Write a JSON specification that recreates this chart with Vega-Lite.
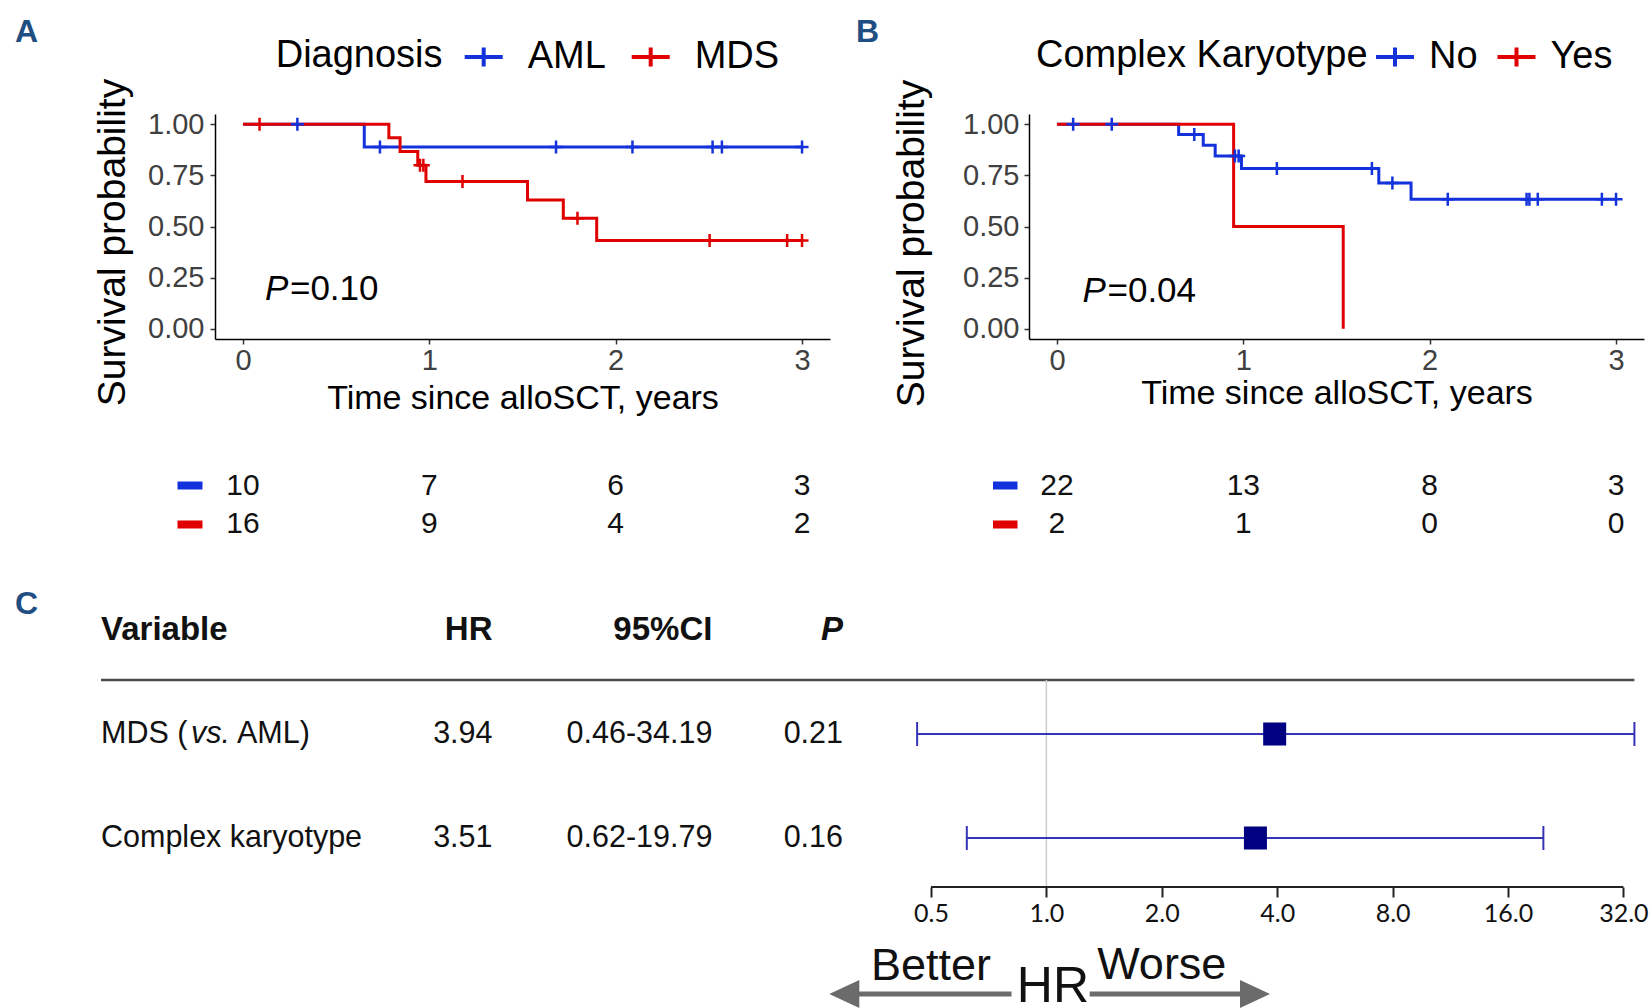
{
  "$schema": "https://vega.github.io/schema/vega-lite/v6.json",
  "background": "white",
  "padding": {"left": 15, "top": 16, "right": 5, "bottom": 2},
  "autosize": {"type": "pad"},
  "config": {"view": {"stroke": null}, "axis": {"grid": false}, "text": {"font": "Liberation Sans"}, "title": {"font": "Liberation Sans"}},
  "datasets": {
    "kmA_lines": [
      {"group": "AML", "time": 0, "surv": 1},
      {"group": "AML", "time": 0.651, "surv": 0.8889},
      {"group": "AML", "time": 3.0, "surv": 0.8889},
      {"group": "MDS", "time": 0, "surv": 1},
      {"group": "MDS", "time": 0.783, "surv": 0.9333},
      {"group": "MDS", "time": 0.843, "surv": 0.8667},
      {"group": "MDS", "time": 0.938, "surv": 0.8},
      {"group": "MDS", "time": 0.982, "surv": 0.72},
      {"group": "MDS", "time": 1.527, "surv": 0.63},
      {"group": "MDS", "time": 1.719, "surv": 0.54},
      {"group": "MDS", "time": 1.898, "surv": 0.432},
      {"group": "MDS", "time": 3.0, "surv": 0.432}
    ],
    "kmA_cens": [
      {"group": "AML", "time": 0.292, "surv": 1},
      {"group": "AML", "time": 0.735, "surv": 0.8889},
      {"group": "AML", "time": 1.68, "surv": 0.8889},
      {"group": "AML", "time": 2.09, "surv": 0.8889},
      {"group": "AML", "time": 2.52, "surv": 0.8889},
      {"group": "AML", "time": 2.57, "surv": 0.8889},
      {"group": "AML", "time": 3.0, "surv": 0.8889},
      {"group": "MDS", "time": 0.089, "surv": 1},
      {"group": "MDS", "time": 0.95, "surv": 0.8},
      {"group": "MDS", "time": 0.968, "surv": 0.8},
      {"group": "MDS", "time": 1.178, "surv": 0.72},
      {"group": "MDS", "time": 1.795, "surv": 0.54},
      {"group": "MDS", "time": 2.504, "surv": 0.432},
      {"group": "MDS", "time": 2.92, "surv": 0.432},
      {"group": "MDS", "time": 3.0, "surv": 0.432}
    ],
    "kmB_lines": [
      {"group": "No", "time": 0, "surv": 1},
      {"group": "No", "time": 0.653, "surv": 0.95},
      {"group": "No", "time": 0.785, "surv": 0.8972},
      {"group": "No", "time": 0.849, "surv": 0.8444},
      {"group": "No", "time": 0.99, "surv": 0.7841},
      {"group": "No", "time": 1.727, "surv": 0.7128},
      {"group": "No", "time": 1.9, "surv": 0.6336},
      {"group": "No", "time": 3.0, "surv": 0.6336},
      {"group": "Yes", "time": 0, "surv": 1},
      {"group": "Yes", "time": 0.948, "surv": 0.5},
      {"group": "Yes", "time": 1.536, "surv": 0}
    ],
    "kmB_cens": [
      {"group": "No", "time": 0.087, "surv": 1},
      {"group": "No", "time": 0.294, "surv": 1},
      {"group": "No", "time": 0.737, "surv": 0.95},
      {"group": "No", "time": 0.955, "surv": 0.8444},
      {"group": "No", "time": 0.975, "surv": 0.8444},
      {"group": "No", "time": 1.18, "surv": 0.7841},
      {"group": "No", "time": 1.69, "surv": 0.7841},
      {"group": "No", "time": 1.8, "surv": 0.7128},
      {"group": "No", "time": 2.097, "surv": 0.6336},
      {"group": "No", "time": 2.52, "surv": 0.6336},
      {"group": "No", "time": 2.535, "surv": 0.6336},
      {"group": "No", "time": 2.58, "surv": 0.6336},
      {"group": "No", "time": 2.924, "surv": 0.6336},
      {"group": "No", "time": 3.0, "surv": 0.6336}
    ],
    "riskA": [
      {"group": "AML", "time": 0, "n": 10}, {"group": "AML", "time": 1, "n": 7},
      {"group": "AML", "time": 2, "n": 6}, {"group": "AML", "time": 3, "n": 3},
      {"group": "MDS", "time": 0, "n": 16}, {"group": "MDS", "time": 1, "n": 9},
      {"group": "MDS", "time": 2, "n": 4}, {"group": "MDS", "time": 3, "n": 2}
    ],
    "riskB": [
      {"group": "No", "time": 0, "n": 22}, {"group": "No", "time": 1, "n": 13},
      {"group": "No", "time": 2, "n": 8}, {"group": "No", "time": 3, "n": 3},
      {"group": "Yes", "time": 0, "n": 2}, {"group": "Yes", "time": 1, "n": 1},
      {"group": "Yes", "time": 2, "n": 0}, {"group": "Yes", "time": 3, "n": 0}
    ],
    "forest": [
      {"row": "MDS (vs. AML)", "hr": 3.94, "lo": 0.46, "hi": 34.19},
      {"row": "Complex karyotype", "hr": 3.51, "lo": 0.62, "hi": 19.79}
    ],
    "table": [
      {"row": "head", "col": "Variable", "text": "Variable"},
      {"row": "head", "col": "HR", "text": "HR"},
      {"row": "head", "col": "95%CI", "text": "95%CI"},
      {"row": "head", "col": "P", "text": "P"},
      {"row": "MDS (vs. AML)", "col": "Variable", "text": "MDS (vs. AML)"},
      {"row": "MDS (vs. AML)", "col": "HR", "text": "3.94"},
      {"row": "MDS (vs. AML)", "col": "95%CI", "text": "0.46-34.19"},
      {"row": "MDS (vs. AML)", "col": "P", "text": "0.21"},
      {"row": "Complex karyotype", "col": "Variable", "text": "Complex karyotype"},
      {"row": "Complex karyotype", "col": "HR", "text": "3.51"},
      {"row": "Complex karyotype", "col": "95%CI", "text": "0.62-19.79"},
      {"row": "Complex karyotype", "col": "P", "text": "0.16"}
    ]
  },
  "spacing": 232,
  "bounds": "flush",
  "vconcat": [
    {
      "spacing": 0,
      "bounds": "flush",
      "resolve": {"scale": {"color": "independent"}, "legend": {"color": "independent"}},
      "hconcat": [
        {"width": 114, "height": 225, "data": {"values": []}, "mark": "point"},
        {
          "width": 615, "height": 225,
          "title": {"text": "A", "anchor": "start", "frame": "group", "dx": -200, "offset": -38, "baseline": "alphabetic", "fontSize": 32, "fontWeight": "bold", "color": "#1F4E82", "font": "Liberation Sans"},
          "layer": [
            {
              "data": {"name": "kmA_lines"},
              "mark": {"type": "line", "interpolate": "step-after", "strokeWidth": 3},
              "encoding": {
                "x": {"field": "time", "type": "quantitative", "scale": {"domain": [-0.15, 3.15], "nice": false, "zero": false},
                  "axis": {"values": [0, 1, 2, 3], "format": "d", "title": "Time since alloSCT, years", "titleFont": "Liberation Sans", "titleFontSize": 34, "titleFontWeight": "normal", "titleColor": "black", "titleBaseline": "alphabetic", "titleY": 69,
                    "labelFont": "Liberation Sans", "labelFontSize": 29, "labelColor": "#404040", "labelPadding": 2, "tickSize": 5, "tickWidth": 1.5, "tickColor": "#333333", "domainColor": "black", "domainWidth": 1.5, "labelFlush": false, "labelOverlap": false}},
                "y": {"field": "surv", "type": "quantitative", "scale": {"domain": [-0.05, 1.05], "nice": false, "zero": false},
                  "axis": {"values": [0, 0.25, 0.5, 0.75, 1], "format": ".2f", "title": "Survival probability", "titleFont": "Liberation Sans", "titleFontSize": 39, "titleFontWeight": "normal", "titleColor": "black", "titleBaseline": "alphabetic", "titleAngle": 270, "titleAlign": "center", "titleX": -91, "titleY": 128,
                    "labelFont": "Liberation Sans", "labelFontSize": 29, "labelColor": "#404040", "labelPadding": 6, "tickSize": 5, "tickWidth": 1.5, "tickColor": "#333333", "domainColor": "black", "domainWidth": 1.5, "labelFlush": false, "labelOverlap": false}},
                "color": {"field": "group", "type": "nominal", "scale": {"domain": ["AML", "MDS"], "range": ["#1432DC", "#E00000"]},
                  "legend": {"orient": "none", "legendX": 60.7, "legendY": -78, "direction": "horizontal", "title": "Diagnosis", "titleOrient": "left", "titleLimit": 600, "titleFont": "Liberation Sans", "titleFontSize": 38, "titleFontWeight": "normal", "titleColor": "black", "titlePadding": 20, "labelFont": "Liberation Sans", "labelFontSize": 38, "labelColor": "black", "labelOffset": 23, "columnPadding": 17, "symbolType": "M-1,0H1M0,-0.5V0.5", "symbolSize": 1444, "symbolStrokeWidth": 4, "padding": 0}}
              }
            },
            {
              "data": {"name": "kmA_cens"},
              "mark": {"type": "point", "shape": "M-1,0H1M0,-1V1", "size": 169, "strokeWidth": 2.5, "filled": false, "opacity": 1},
              "encoding": {"x": {"field": "time", "type": "quantitative"}, "y": {"field": "surv", "type": "quantitative"}, "color": {"field": "group", "type": "nominal"}}
            },
            {
              "data": {"values": [{"sym": "P", "val": "=0.10"}]},
              "mark": {"type": "text", "align": "left", "baseline": "middle", "fontSize": 35, "fontStyle": "italic", "fill": "black", "font": "Liberation Sans"},
              "encoding": {"x": {"datum": 0.118}, "y": {"datum": 0.195}, "text": {"field": "sym"}}
            },
            {
              "data": {"values": [{"sym": "P", "val": "=0.10"}]},
              "mark": {"type": "text", "align": "left", "baseline": "middle", "fontSize": 35, "dx": 25, "fill": "black", "font": "Liberation Sans"},
              "encoding": {"x": {"datum": 0.118}, "y": {"datum": 0.195}, "text": {"field": "val"}}
            }
          ]
        },
        {"width": 199, "height": 225, "data": {"values": []}, "mark": "point"},
        {
          "width": 615, "height": 225,
          "title": {"text": "B", "anchor": "start", "frame": "group", "dx": -173, "offset": -38, "baseline": "alphabetic", "fontSize": 32, "fontWeight": "bold", "color": "#1F4E82", "font": "Liberation Sans"},
          "layer": [
            {
              "data": {"name": "kmB_lines"},
              "mark": {"type": "line", "interpolate": "step-after", "strokeWidth": 3},
              "encoding": {
                "x": {"field": "time", "type": "quantitative", "scale": {"domain": [-0.15, 3.15], "nice": false, "zero": false},
                  "axis": {"values": [0, 1, 2, 3], "format": "d", "title": "Time since alloSCT, years", "titleFont": "Liberation Sans", "titleFontSize": 34, "titleFontWeight": "normal", "titleColor": "black", "titleBaseline": "alphabetic", "titleY": 64,
                    "labelFont": "Liberation Sans", "labelFontSize": 29, "labelColor": "#404040", "labelPadding": 2, "tickSize": 5, "tickWidth": 1.5, "tickColor": "#333333", "domainColor": "black", "domainWidth": 1.5, "labelFlush": false, "labelOverlap": false}},
                "y": {"field": "surv", "type": "quantitative", "scale": {"domain": [-0.05, 1.05], "nice": false, "zero": false},
                  "axis": {"values": [0, 0.25, 0.5, 0.75, 1], "format": ".2f", "title": "Survival probability", "titleFont": "Liberation Sans", "titleFontSize": 39, "titleFontWeight": "normal", "titleColor": "black", "titleBaseline": "alphabetic", "titleAngle": 270, "titleAlign": "center", "titleX": -106, "titleY": 129,
                    "labelFont": "Liberation Sans", "labelFontSize": 29, "labelColor": "#404040", "labelPadding": 5, "tickSize": 5, "tickWidth": 1.5, "tickColor": "#333333", "domainColor": "black", "domainWidth": 1.5, "labelFlush": false, "labelOverlap": false}},
                "color": {"field": "group", "type": "nominal", "scale": {"domain": ["No", "Yes"], "range": ["#1432DC", "#E00000"]},
                  "legend": {"orient": "none", "legendX": 7, "legendY": -78, "direction": "horizontal", "title": "Complex Karyotype", "titleOrient": "left", "titleLimit": 600, "titleFont": "Liberation Sans", "titleFontSize": 38, "titleFontWeight": "normal", "titleColor": "black", "titlePadding": 6, "labelFont": "Liberation Sans", "labelFontSize": 38, "labelColor": "black", "labelOffset": 13, "columnPadding": 11.5, "symbolType": "M-1,0H1M0,-0.5V0.5", "symbolSize": 1444, "symbolStrokeWidth": 4, "padding": 0}}
              }
            },
            {
              "data": {"name": "kmB_cens"},
              "mark": {"type": "point", "shape": "M-1,0H1M0,-1V1", "size": 169, "strokeWidth": 2.5, "filled": false, "opacity": 1},
              "encoding": {"x": {"field": "time", "type": "quantitative"}, "y": {"field": "surv", "type": "quantitative"}, "color": {"field": "group", "type": "nominal"}}
            },
            {
              "data": {"values": [{"sym": "P", "val": "=0.04"}]},
              "mark": {"type": "text", "align": "left", "baseline": "middle", "fontSize": 35, "fontStyle": "italic", "fill": "black", "font": "Liberation Sans"},
              "encoding": {"x": {"datum": 0.137}, "y": {"datum": 0.185}, "text": {"field": "sym"}}
            },
            {
              "data": {"values": [{"sym": "P", "val": "=0.04"}]},
              "mark": {"type": "text", "align": "left", "baseline": "middle", "fontSize": 35, "dx": 25, "fill": "black", "font": "Liberation Sans"},
              "encoding": {"x": {"datum": 0.137}, "y": {"datum": 0.185}, "text": {"field": "val"}}
            }
          ]
        }
      ]
    },
    {
      "spacing": 0,
      "bounds": "flush",
      "hconcat": [
        {"width": 114, "height": 232, "data": {"values": []}, "mark": "point"},
        {
          "width": 615, "height": 232,
          "data": {"name": "riskA"},
          "mark": {"type": "text", "fontSize": 30, "font": "Liberation Sans", "fill": "#111111", "baseline": "middle"},
          "encoding": {
            "x": {"field": "time", "type": "quantitative", "scale": {"domain": [-0.15, 3.15], "nice": false, "zero": false}, "axis": null},
            "y": {"field": "group", "type": "nominal", "scale": {"type": "band", "domain": ["AML", "MDS"], "paddingInner": 0, "paddingOuter": 0, "range": [120.25, 197.25]},
              "axis": {"orient": "left", "offset": 13, "tickSize": 25, "tickWidth": 8, "tickColor": {"condition": {"test": "datum.value === 'AML'", "value": "#1432DC"}, "value": "#E00000"}, "labels": false, "domain": false, "title": null, "grid": false}},
            "text": {"field": "n", "type": "quantitative"}
          }
        },
        {"width": 199, "height": 232, "data": {"values": []}, "mark": "point"},
        {
          "width": 615, "height": 232,
          "data": {"name": "riskB"},
          "mark": {"type": "text", "fontSize": 30, "font": "Liberation Sans", "fill": "#111111", "baseline": "middle"},
          "encoding": {
            "x": {"field": "time", "type": "quantitative", "scale": {"domain": [-0.15, 3.15], "nice": false, "zero": false}, "axis": null},
            "y": {"field": "group", "type": "nominal", "scale": {"type": "band", "domain": ["No", "Yes"], "paddingInner": 0, "paddingOuter": 0, "range": [120.25, 197.25]},
              "axis": {"orient": "left", "offset": 12, "tickSize": 24.5, "tickWidth": 8, "tickColor": {"condition": {"test": "datum.value === 'No'", "value": "#1432DC"}, "value": "#E00000"}, "labels": false, "domain": false, "title": null, "grid": false}},
            "text": {"field": "n", "type": "quantitative"}
          }
        }
      ]
    },
    {
      "spacing": 0,
      "bounds": "flush",
      "hconcat": [
        {
          "width": 830, "height": 312,
          "data": {"name": "table"},
          "title": {"text": "C", "anchor": "start", "frame": "group", "dx": -86, "offset": -68, "baseline": "alphabetic", "fontSize": 32, "fontWeight": "bold", "color": "#1F4E82", "font": "Liberation Sans"},
          "layer": [
            {
              "transform": [{"filter": "datum.row === 'MDS (vs. AML)' && datum.col === 'Variable'"}],
              "mark": {"type": "rule", "color": "#4a4a4a", "strokeWidth": 2.5, "yOffset": -2},
              "encoding": {"y": {"field": "row", "type": "nominal", "bandPosition": 0, "scale": {"type": "band", "domain": ["head", "MDS (vs. AML)", "Complex karyotype"], "paddingInner": 0, "paddingOuter": 0}, "axis": null}}
            },
            {
              "transform": [{"filter": "datum.row === 'head' && datum.col === 'Variable'"}],
              "mark": {"type": "text", "align": "left", "baseline": "middle", "fontSize": 33, "fontWeight": "bold", "fill": "#111111", "font": "Liberation Sans"},
              "encoding": {"x": {"field": "col", "type": "nominal", "bandPosition": 0, "scale": {"type": "band", "domain": ["Variable", "HR", "95%CI", "P"], "paddingInner": 0, "paddingOuter": 0}, "axis": null}, "y": {"field": "row", "type": "nominal", "axis": null}, "text": {"field": "text"}}
            },
            {
              "transform": [{"filter": "datum.row === 'head' && datum.col === 'HR'"}],
              "mark": {"type": "text", "align": "right", "baseline": "middle", "dx": 184, "fontSize": 33, "fontWeight": "bold", "fill": "#111111", "font": "Liberation Sans"},
              "encoding": {"x": {"field": "col", "type": "nominal", "bandPosition": 0, "axis": null}, "y": {"field": "row", "type": "nominal", "axis": null}, "text": {"field": "text"}}
            },
            {
              "transform": [{"filter": "datum.row === 'head' && datum.col === '95%CI'"}],
              "mark": {"type": "text", "align": "right", "baseline": "middle", "dx": 196.4, "fontSize": 33, "fontWeight": "bold", "fill": "#111111", "font": "Liberation Sans"},
              "encoding": {"x": {"field": "col", "type": "nominal", "bandPosition": 0, "axis": null}, "y": {"field": "row", "type": "nominal", "axis": null}, "text": {"field": "text"}}
            },
            {
              "transform": [{"filter": "datum.row === 'head' && datum.col === 'P'"}],
              "mark": {"type": "text", "align": "right", "baseline": "middle", "dx": 119.5, "fontSize": 33, "fontWeight": "bold", "fontStyle": "italic", "fill": "#111111", "font": "Liberation Sans"},
              "encoding": {"x": {"field": "col", "type": "nominal", "bandPosition": 0, "axis": null}, "y": {"field": "row", "type": "nominal", "axis": null}, "text": {"field": "text"}}
            },
            {
              "transform": [{"filter": "datum.row === 'Complex karyotype' && datum.col === 'Variable'"}],
              "mark": {"type": "text", "align": "left", "baseline": "middle", "fontSize": 30.5, "fill": "#111111", "font": "Liberation Sans"},
              "encoding": {"x": {"field": "col", "type": "nominal", "bandPosition": 0, "axis": null}, "y": {"field": "row", "type": "nominal", "axis": null}, "text": {"field": "text"}}
            },
            {
              "transform": [{"filter": "datum.row !== 'head' && datum.col === 'HR'"}],
              "mark": {"type": "text", "align": "right", "baseline": "middle", "dx": 184, "fontSize": 30.5, "fill": "#111111", "font": "Liberation Sans"},
              "encoding": {"x": {"field": "col", "type": "nominal", "bandPosition": 0, "axis": null}, "y": {"field": "row", "type": "nominal", "axis": null}, "text": {"field": "text"}}
            },
            {
              "transform": [{"filter": "datum.row !== 'head' && datum.col === '95%CI'"}],
              "mark": {"type": "text", "align": "right", "baseline": "middle", "dx": 196.4, "fontSize": 30.5, "fill": "#111111", "font": "Liberation Sans"},
              "encoding": {"x": {"field": "col", "type": "nominal", "bandPosition": 0, "axis": null}, "y": {"field": "row", "type": "nominal", "axis": null}, "text": {"field": "text"}}
            },
            {
              "transform": [{"filter": "datum.row !== 'head' && datum.col === 'P'"}],
              "mark": {"type": "text", "align": "right", "baseline": "middle", "dx": 119.5, "fontSize": 30.5, "fill": "#111111", "font": "Liberation Sans"},
              "encoding": {"x": {"field": "col", "type": "nominal", "bandPosition": 0, "axis": null}, "y": {"field": "row", "type": "nominal", "axis": null}, "text": {"field": "text"}}
            },
            {
              "transform": [{"filter": "datum.row === 'MDS (vs. AML)' && datum.col === 'Variable'"}],
              "mark": {"type": "text", "align": "left", "baseline": "middle", "fontSize": 30.5, "fill": "#111111", "font": "Liberation Sans"},
              "encoding": {"x": {"field": "col", "type": "nominal", "bandPosition": 0, "axis": null}, "y": {"field": "row", "type": "nominal", "axis": null}, "text": {"value": "MDS ("}}
            },
            {
              "transform": [{"filter": "datum.row === 'MDS (vs. AML)' && datum.col === 'Variable'"}],
              "mark": {"type": "text", "align": "left", "baseline": "middle", "dx": 90, "fontSize": 30.5, "fontStyle": "italic", "fill": "#111111", "font": "Liberation Sans"},
              "encoding": {"x": {"field": "col", "type": "nominal", "bandPosition": 0, "axis": null}, "y": {"field": "row", "type": "nominal", "axis": null}, "text": {"value": "vs."}}
            },
            {
              "transform": [{"filter": "datum.row === 'MDS (vs. AML)' && datum.col === 'Variable'"}],
              "mark": {"type": "text", "align": "left", "baseline": "middle", "dx": 136, "fontSize": 30.5, "fill": "#111111", "font": "Liberation Sans"},
              "encoding": {"x": {"field": "col", "type": "nominal", "bandPosition": 0, "axis": null}, "y": {"field": "row", "type": "nominal", "axis": null}, "text": {"value": "AML)"}}
            }
          ]
        },
        {
          "width": 703.4, "height": 312,
          "layer": [
            {
              "data": {"name": "forest"},
              "transform": [{"filter": "datum.row === 'MDS (vs. AML)'"}],
              "mark": {"type": "rule", "color": "#4a4a4a", "strokeWidth": 2.5, "yOffset": -2},
              "encoding": {"y": {"field": "row", "type": "nominal", "bandPosition": 0, "scale": {"type": "band", "domain": ["head", "MDS (vs. AML)", "Complex karyotype"], "paddingInner": 0, "paddingOuter": 0}, "axis": null}}
            },
            {
              "data": {"name": "forest"},
              "transform": [{"filter": "datum.row === 'MDS (vs. AML)'"}],
              "mark": {"type": "rule", "color": "#cccccc", "strokeWidth": 1.5, "yOffset": -2, "y2Offset": -3},
              "encoding": {
                "x": {"datum": 1, "type": "quantitative", "scale": {"type": "log", "domain": [0.5, 34.19], "nice": false},
                  "axis": {"orient": "bottom", "offset": -3, "values": [0.5, 1, 2, 4, 8, 16, 32], "format": ".1f", "domain": false, "grid": false, "tickSize": 10, "tickWidth": 2, "tickColor": "#222222", "labelFont": "Lato", "labelFontSize": 25, "labelColor": "#111111", "labelPadding": 4, "title": null, "labelFlush": false, "labelOverlap": false}},
                "y": {"field": "row", "type": "nominal", "bandPosition": 0, "axis": null},
                "y2": {"value": "height"}
              }
            },
            {
              "data": {"values": [{}]},
              "mark": {"type": "rule", "color": "#222222", "strokeWidth": 2, "yOffset": -3},
              "encoding": {"x": {"datum": 0.5, "type": "quantitative"}, "x2": {"datum": 32}, "y": {"value": "height"}}
            },
            {
              "data": {"name": "forest"},
              "mark": {"type": "rule", "color": "#3434B4", "strokeWidth": 2},
              "encoding": {"x": {"field": "lo", "type": "quantitative"}, "x2": {"field": "hi"}, "y": {"field": "row", "type": "nominal", "axis": null}}
            },
            {
              "data": {"name": "forest"},
              "mark": {"type": "tick", "orient": "vertical", "size": 24, "thickness": 2, "color": "#3434B4", "opacity": 1},
              "encoding": {"x": {"field": "lo", "type": "quantitative"}, "y": {"field": "row", "type": "nominal", "axis": null}}
            },
            {
              "data": {"name": "forest"},
              "mark": {"type": "tick", "orient": "vertical", "size": 24, "thickness": 2, "color": "#3434B4", "opacity": 1},
              "encoding": {"x": {"field": "hi", "type": "quantitative"}, "y": {"field": "row", "type": "nominal", "axis": null}}
            },
            {
              "data": {"name": "forest"},
              "mark": {"type": "square", "size": 529, "color": "#000080", "opacity": 1},
              "encoding": {"x": {"field": "hr", "type": "quantitative"}, "y": {"field": "row", "type": "nominal", "axis": null}}
            },
            {
              "data": {"values": [{"t": "Better"}]},
              "mark": {"type": "text", "align": "center", "baseline": "alphabetic", "fontSize": 45, "yOffset": 90, "fill": "#111111", "font": "Liberation Sans"},
              "encoding": {"x": {"datum": 0.5, "type": "quantitative"}, "y": {"value": "height"}, "text": {"field": "t"}}
            },
            {
              "data": {"values": [{"t": "Worse"}]},
              "mark": {"type": "text", "align": "center", "baseline": "alphabetic", "fontSize": 45, "yOffset": 89, "fill": "#111111", "font": "Liberation Sans"},
              "encoding": {"x": {"datum": 2.0, "type": "quantitative"}, "y": {"value": "height"}, "text": {"field": "t"}}
            },
            {
              "data": {"values": [{"t": "HR"}]},
              "mark": {"type": "text", "align": "center", "baseline": "alphabetic", "fontSize": 50, "yOffset": 112, "fill": "#111111", "font": "Liberation Sans"},
              "encoding": {"x": {"datum": 1.04, "type": "quantitative"}, "y": {"value": "height"}, "text": {"field": "t"}}
            },
            {
              "data": {"values": [{}]},
              "mark": {"type": "rule", "color": "#6b6b6b", "strokeWidth": 5, "yOffset": 104},
              "encoding": {"x": {"datum": 0.32, "type": "quantitative"}, "x2": {"datum": 0.811}, "y": {"value": "height"}}
            },
            {
              "data": {"values": [{}]},
              "mark": {"type": "rule", "color": "#6b6b6b", "strokeWidth": 5, "yOffset": 104},
              "encoding": {"x": {"datum": 1.297, "type": "quantitative"}, "x2": {"datum": 3.25}, "y": {"value": "height"}}
            },
            {
              "data": {"values": [{}]},
              "mark": {"type": "point", "shape": "M-1,0L1,-0.93L1,0.93Z", "size": 900, "filled": true, "color": "#6b6b6b", "opacity": 1, "yOffset": 104},
              "encoding": {"x": {"datum": 0.297, "type": "quantitative"}, "y": {"value": "height"}}
            },
            {
              "data": {"values": [{}]},
              "mark": {"type": "point", "shape": "M1,0L-1,-0.93L-1,0.93Z", "size": 900, "filled": true, "color": "#6b6b6b", "opacity": 1, "yOffset": 104},
              "encoding": {"x": {"datum": 3.501, "type": "quantitative"}, "y": {"value": "height"}}
            }
          ]
        }
      ]
    }
  ]
}
